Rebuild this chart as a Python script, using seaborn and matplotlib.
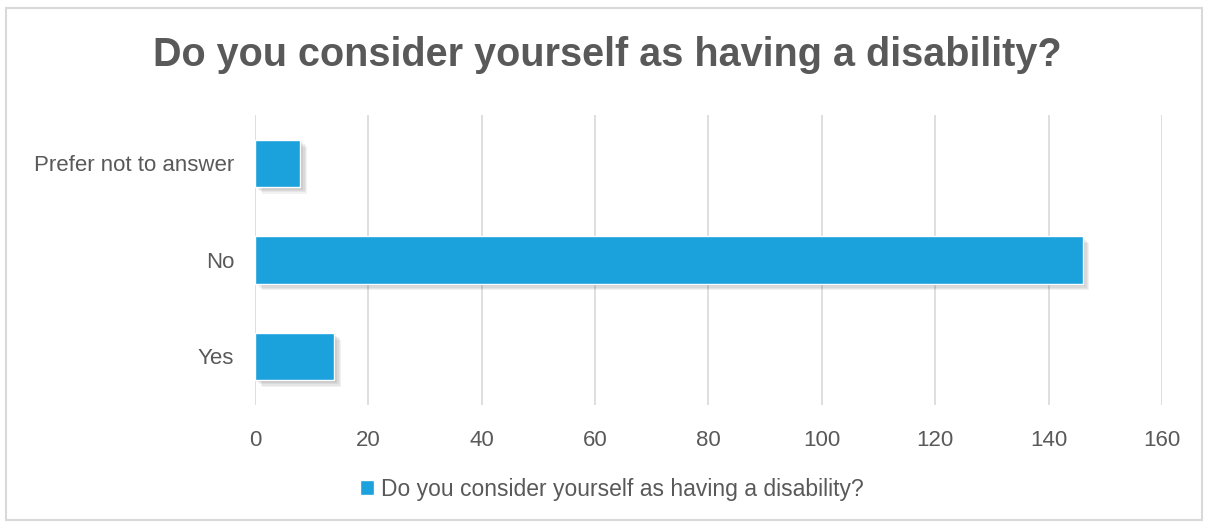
import matplotlib
matplotlib.use("Agg")
import matplotlib.pyplot as plt
import matplotlib.patheffects as pe
from matplotlib.patches import Rectangle
import pandas as pd
import seaborn as sns

# data
categories = ["Prefer not to answer", "No", "Yes"]
counts = [8, 146, 14]
series_name = "Do you consider yourself as having a disability?"
x_ticks = [0, 20, 40, 60, 80, 100, 120, 140, 160]

df = pd.DataFrame({"answer": categories, "count": counts})

sns.set_style("white")
plt.rcParams["font.family"] = ["Liberation Sans", "DejaVu Sans"]

TXT = "#595959"
BAR = "#1ba1db"

fig = plt.figure(figsize=(12.09, 5.25), dpi=100)
ax = fig.add_axes([0.211, 0.229, 0.75, 0.552])

sns.barplot(data=df, x="count", y="answer", orient="h", color=BAR,
            width=0.49, saturation=1, ax=ax)

# soft drop shadow, several faint layers
shadow = [pe.SimplePatchShadow(offset=(o, -o), shadow_rgbFace="#000000", alpha=0.05)
          for o in (1, 2, 3, 4, 5)]
for p in ax.patches:
    p.set_path_effects(shadow + [pe.Normal()])
    p.set_zorder(3)

ax.set_xlim(0, 160)
ax.set_xticks(x_ticks)
ax.xaxis.grid(True, color="#d9d9d9", linewidth=1.2)
ax.set_axisbelow(True)
for s in ax.spines.values():
    s.set_visible(False)
ax.set_xlabel("")
ax.set_ylabel("")
ax.tick_params(axis="both", length=0, labelsize=16, labelcolor=TXT)
ax.tick_params(axis="y", pad=15)
ax.tick_params(axis="x", pad=18)

fig.suptitle(series_name, x=0.502, y=0.932, fontsize=28.5, fontweight="bold", color=TXT)

handle = Rectangle((0, 0), 1, 1, facecolor=BAR)
fig.legend([handle], [series_name], loc="center", bbox_to_anchor=(0.506, 0.068),
           frameon=False, fontsize=16.5, labelcolor=TXT, handlelength=0.6,
           handleheight=0.6, handletextpad=0.3)

# light frame around the chart
fig.patches.append(Rectangle((0.005, 0.01), 0.989, 0.975, transform=fig.transFigure,
                             fill=False, edgecolor="#d9d9d9", linewidth=1.5))

fig.savefig("out.png", dpi=100)
